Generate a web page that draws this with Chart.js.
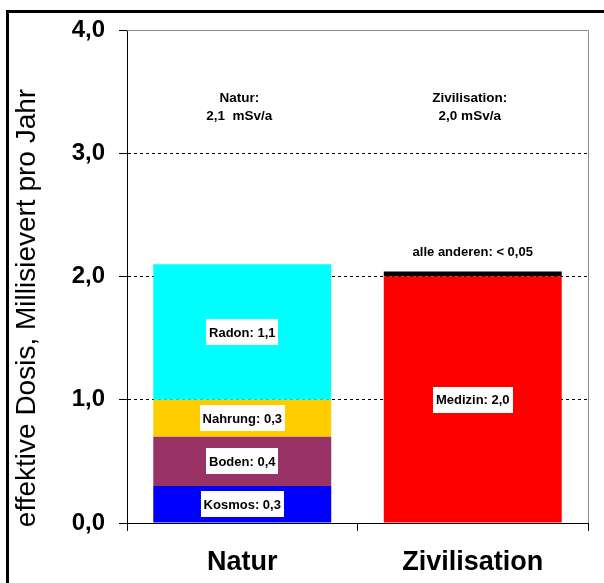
<!DOCTYPE html>
<html>
<head>
<meta charset="utf-8">
<script src="https://cdn.jsdelivr.net/npm/chart.js@4/dist/chart.umd.min.js"></script>
<style>
html,body{margin:0;padding:0;background:#fff;}
canvas{display:block;}
</style>
</head>
<body>
<canvas id="c" width="604" height="583"></canvas>
<script>
// ---- data ----
const categories = ['Natur', 'Zivilisation'];
const naturNames = ['Kosmos', 'Boden', 'Nahrung', 'Radon'];
const naturValues = [0.3, 0.4, 0.3, 1.1];
const zivNames = ['Medizin', 'alle anderen'];
const zivValues = [2.0, 0.04];
const zivValueTexts = ['2,0', '< 0,05'];
const yTickValues = [0, 1, 2, 3, 4];
const yAxisTitle = 'effektive Dosis, Millisievert pro Jahr';
const unit = 'mSv/a';
const unitSeparators = ['  ', ' '];

// ---- styles ----
const naturColors = ['#0000FF', '#993366', '#FFCC00', '#00FFFF'];
const zivColors = ['#FF0000', '#000000'];

const FONT = '"Liberation Sans", Arial, sans-serif';
const fmt = v => v.toFixed(1).replace('.', ',');

const datasets = [];
naturNames.forEach((n, i) => {
  datasets.push({
    label: n,
    data: [naturValues[i], null],
    backgroundColor: naturColors[i],
    borderWidth: 0,
    _text: n + ': ' + fmt(naturValues[i]),
    _box: true
  });
});
zivNames.forEach((n, i) => {
  datasets.push({
    label: n,
    data: [null, zivValues[i]],
    backgroundColor: zivColors[i],
    borderWidth: 0,
    _text: n + ': ' + zivValueTexts[i],
    _box: i === 0
  });
});

const sums = [naturValues.reduce((a, b) => a + b, 0), zivValues.reduce((a, b) => a + b, 0)];

const annot = {
  id: 'annot',
  beforeDraw(chart) {
    const ctx = chart.ctx;
    ctx.save();
    ctx.fillStyle = '#fff';
    ctx.fillRect(0, 0, chart.width, chart.height);
    ctx.restore();
  },
  afterDatasetsDraw(chart) {
    const ctx = chart.ctx;
    ctx.save();
    ctx.font = 'bold 13px ' + FONT;
    ctx.textAlign = 'center';
    ctx.textBaseline = 'middle';
    chart.data.datasets.forEach((ds, di) => {
      const meta = chart.getDatasetMeta(di);
      meta.data.forEach((el, idx) => {
        if (ds.data[idx] == null) return;
        const cx = el.x;
        if (ds._box) {
          const cy = (el.y + el.base) / 2;
          const w = ctx.measureText(ds._text).width + 6;
          const h = 26;
          ctx.fillStyle = '#fff';
          ctx.fillRect(Math.round(cx - w / 2), Math.round(cy - h / 2), Math.round(w), h);
          ctx.fillStyle = '#000';
          ctx.fillText(ds._text, cx, cy + 1);
        } else {
          ctx.fillStyle = '#000';
          ctx.fillText(ds._text, cx, el.y - 19);
        }
      });
    });
    ctx.restore();
  },
  afterDraw(chart) {
    const ctx = chart.ctx;
    const a = chart.chartArea;
    ctx.save();
    // plot frame top/right (gray)
    ctx.strokeStyle = '#8c8c8c';
    ctx.lineWidth = 1;
    ctx.beginPath();
    ctx.moveTo(a.left, a.top + 0.5);
    ctx.lineTo(a.right + 0.5, a.top + 0.5);
    ctx.lineTo(a.right + 0.5, a.bottom);
    ctx.stroke();
    // outer black frame (left & top)
    ctx.fillStyle = '#000';
    ctx.fillRect(6, 10, 3, chart.height - 10);
    ctx.fillRect(6, 10, chart.width - 6, 3);
    // y-axis title
    ctx.save();
    ctx.translate(27, 308);
    ctx.rotate(-Math.PI / 2);
    ctx.font = '28px ' + FONT;
    ctx.textAlign = 'center';
    ctx.textBaseline = 'middle';
    ctx.fillText(yAxisTitle, 0, 0);
    ctx.restore();
    // totals at top
    ctx.font = 'bold 13.5px ' + FONT;
    ctx.textAlign = 'center';
    ctx.textBaseline = 'middle';
    const xs = chart.scales.x;
    categories.forEach((c, i) => {
      const cx = xs.getPixelForValue(i) - 3;
      ctx.fillText(c + ':', cx, a.top + 68);
      ctx.fillText(fmt(sums[i]) + unitSeparators[i] + unit, cx, a.top + 86);
    });
    ctx.restore();
  }
};

new Chart(document.getElementById('c'), {
  type: 'bar',
  data: { labels: categories, datasets },
  plugins: [annot],
  options: {
    responsive: false,
    animation: false,
    layout: { padding: { top: 30, right: 16, left: 0, bottom: 0 } },
    plugins: { legend: { display: false }, tooltip: { enabled: false } },
    datasets: { bar: { categoryPercentage: 1, barPercentage: 0.772 } },
    scales: {
      x: {
        stacked: true,
        afterFit: s => { s.height = 60; },
        grid: {
          display: true,
          drawOnChartArea: false,
          offset: true,
          tickLength: 8,
          color: '#000',
          tickColor: '#000'
        },
        border: { display: true, color: '#000', width: 1 },
        ticks: {
          color: '#000',
          padding: 15,
          font: { family: FONT, size: 27, weight: 'bold' }
        }
      },
      y: {
        stacked: true,
        min: 0,
        max: 4,
        afterFit: s => { s.width = 127; },
        afterBuildTicks: s => { s.ticks = yTickValues.map(v => ({ value: v })); },
        grid: {
          color: c => (c.tick && (c.tick.value === 0 || c.tick.value === 4)) ? 'rgba(0,0,0,0)' : '#000',
          tickColor: '#000',
          tickLength: 8,
          lineWidth: 1
        },
        border: { display: true, color: '#000', width: 1, dash: [3, 3] },
        ticks: {
          color: '#000',
          padding: 14,
          font: { family: FONT, size: 24, weight: 'bold' },
          callback: v => fmt(v)
        }
      }
    }
  }
});
</script>
</body>
</html>
